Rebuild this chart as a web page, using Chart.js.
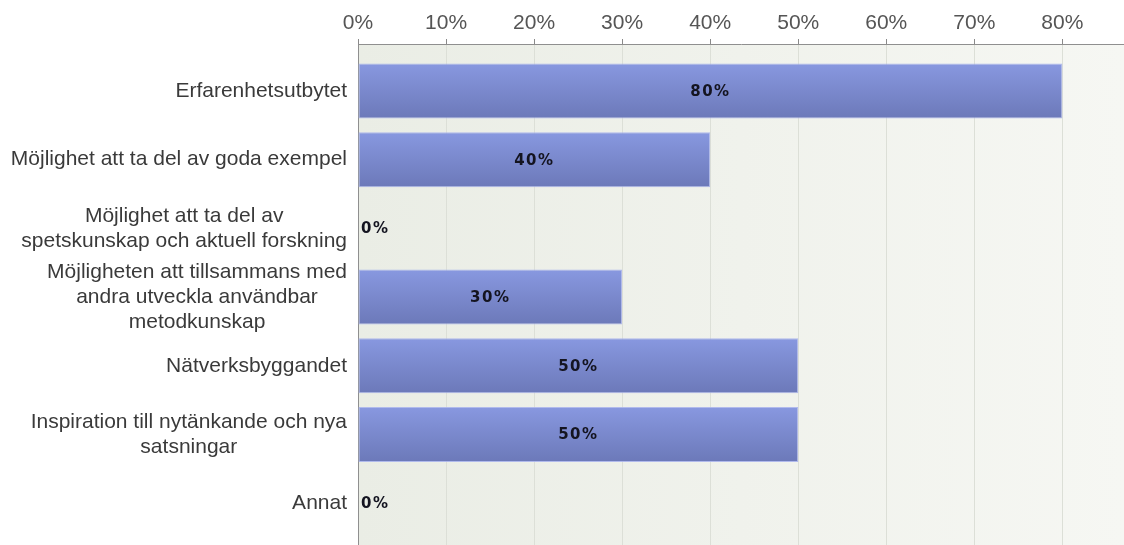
<!DOCTYPE html>
<html>
<head>
<meta charset="utf-8">
<script src="https://cdn.jsdelivr.net/npm/chart.js@4"></script>
<style>
  html, body { margin: 0; padding: 0; background: #ffffff; }
  #wrap { width: 1124px; height: 545px; position: relative; }
</style>
</head>
<body>
<div id="wrap"><canvas id="c"></canvas></div>
<script>
const categories = [
  ["Erfarenhetsutbytet"],
  ["Möjlighet att ta del av goda exempel"],
  ["Möjlighet att ta del av", "spetskunskap och aktuell forskning"],
  ["Möjligheten att tillsammans med", "andra utveckla användbar", "metodkunskap"],
  ["Nätverksbyggandet"],
  ["Inspiration till nytänkande och nya", "satsningar"],
  ["Annat"]
];
const values = [80, 40, 0, 30, 50, 50, 0];
const xTicks = [0, 10, 20, 30, 40, 50, 60, 70, 80];

const LABEL_FONT = '21px "Liberation Sans", Arial, sans-serif';

const bgPlugin = {
  id: 'bgPlugin',
  beforeDraw(chart) {
    const {ctx, chartArea: a} = chart;
    const g = ctx.createLinearGradient(a.left, 0, a.right, 0);
    g.addColorStop(0, '#eaede5');
    g.addColorStop(1, '#f6f7f3');
    ctx.save();
    ctx.fillStyle = g;
    ctx.fillRect(a.left, a.top, a.right - a.left, a.bottom - a.top);
    ctx.restore();
  }
};

const labelPlugin = {
  id: 'labelPlugin',
  afterDraw(chart) {
    const {ctx} = chart;
    const ys = chart.scales.y;
    ctx.save();
    ctx.font = LABEL_FONT;
    ctx.fillStyle = '#3a3a3a';
    ctx.textBaseline = 'middle';
    ctx.textAlign = 'center';
    const rightX = ys.right - 11;
    const lh = 25;
    categories.forEach((lines, i) => {
      const cy = ys.getPixelForValue(i);
      const w = Math.max(...lines.map(l => ctx.measureText(l).width));
      const cx = rightX - w / 2;
      const y0 = cy - (lines.length - 1) * lh / 2;
      lines.forEach((l, k) => ctx.fillText(l, cx, y0 + k * lh));
    });
    ctx.font = 'bold 15px "DejaVu Sans", sans-serif';
    ctx.fillStyle = '#141420';
    ctx.letterSpacing = '1.5px';
    const meta = chart.getDatasetMeta(0);
    meta.data.forEach((el, i) => {
      const p = el.getProps(['x', 'y', 'base'], true);
      const txt = values[i] + '%';
      if (values[i] === 0) {
        ctx.textAlign = 'left';
        ctx.fillText(txt, p.base + 3, p.y + 1);
      } else {
        ctx.textAlign = 'center';
        ctx.fillText(txt, (p.x + p.base) / 2, p.y + 1);
      }
    });
    ctx.restore();
  }
};

new Chart(document.getElementById('c'), {
  type: 'bar',
  data: {
    datasets: [{
      data: values.map((v, i) => ({x: v, y: i})),
      backgroundColor(ctx) {
        const chart = ctx.chart;
        const s = chart.scales.y;
        if (!s || ctx.dataIndex === undefined) return '#7a88cc';
        const c = s.getPixelForValue(ctx.dataIndex);
        const h = Math.abs(s.getPixelForValue(ctx.dataIndex + 0.4) - c);
        if (!isFinite(c) || !isFinite(h) || h === 0) return '#7a88cc';
        const g = chart.ctx.createLinearGradient(0, c - h, 0, c + h);
        g.addColorStop(0, '#8898e0');
        g.addColorStop(1, '#6c79b9');
        return g;
      },
      borderColor: 'rgba(170,180,236,0.9)',
      borderWidth: 1,
      borderSkipped: false,
      barPercentage: 0.8,
      categoryPercentage: 1.0
    }]
  },
  options: {
    indexAxis: 'y',
    responsive: true,
    maintainAspectRatio: false,
    animation: false,
    layout: { padding: 0 },
    plugins: { legend: { display: false }, tooltip: { enabled: false } },
    scales: {
      x: {
        type: 'linear',
        position: 'top',
        min: 0,
        max: 87,
        afterBuildTicks(scale) { scale.ticks = xTicks.map(v => ({value: v})); },
        afterFit(scale) { scale.height = 44; },
        ticks: {
          callback: v => v + '%',
          color: '#555555',
          font: { family: '"Liberation Sans", Arial, sans-serif', size: 21 },
          padding: 3,
          maxRotation: 0
        },
        grid: { color: '#dcdfd7', tickColor: '#8a8a8a', tickLength: 5, lineWidth: 1 },
        border: { color: '#8f8f8f', width: 1 }
      },
      y: {
        type: 'linear',
        reverse: true,
        offset: false,
        min: -0.684,
        max: 6.61,
        afterBuildTicks(scale) { scale.ticks = categories.map((c, i) => ({value: i})); },
        afterFit(scale) { scale.width = 358; },
        ticks: { display: false },
        grid: { display: false, offset: false },
        border: { color: '#8f8f8f', width: 1 }
      }
    }
  },
  plugins: [bgPlugin, labelPlugin]
});
</script>
</body>
</html>
